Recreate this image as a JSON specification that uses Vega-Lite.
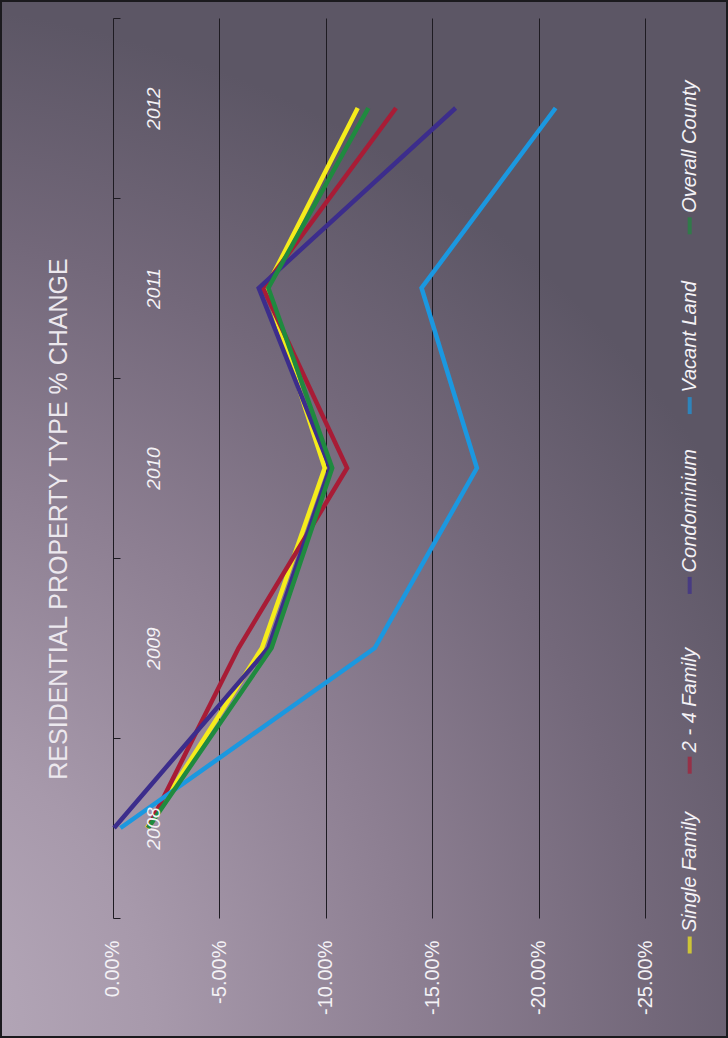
{
  "$schema": "https://vega.github.io/schema/vega-lite/v6.json",
  "width": 728,
  "height": 1038,
  "autosize": {"type": "none"},
  "padding": 0,
  "background": "#7d7083",
  "view": {
    "fill": {
      "gradient": "radial",
      "x1": 0, "y1": 1, "r1": 0,
      "x2": 0, "y2": 1, "r2": 1,
      "stops": [
        {"offset": 0, "color": "#bcb0c0"},
        {"offset": 0.3, "color": "#a799ab"},
        {"offset": 0.55, "color": "#8d7f92"},
        {"offset": 0.78, "color": "#73687a"},
        {"offset": 1, "color": "#5c5665"}
      ]
    },
    "stroke": "#1b1a1e",
    "strokeWidth": 4
  },
  "title": {
    "text": "RESIDENTIAL PROPERTY TYPE % CHANGE",
    "orient": "left",
    "anchor": "middle",
    "frame": "group",
    "offset": -72,
    "font": "Liberation Sans",
    "fontSize": 25,
    "fontWeight": "normal",
    "color": "#ece8ee"
  },
  "datasets": {
    "series": [
      {"year": 2008, "type": "Single Family", "change": -1.6},
      {"year": 2009, "type": "Single Family", "change": -7.0},
      {"year": 2010, "type": "Single Family", "change": -9.95},
      {"year": 2011, "type": "Single Family", "change": -7.2},
      {"year": 2012, "type": "Single Family", "change": -11.5},
      {"year": 2008, "type": "2 - 4 Family", "change": -1.65},
      {"year": 2009, "type": "2 - 4 Family", "change": -5.9},
      {"year": 2010, "type": "2 - 4 Family", "change": -11.0},
      {"year": 2011, "type": "2 - 4 Family", "change": -7.05},
      {"year": 2012, "type": "2 - 4 Family", "change": -13.3},
      {"year": 2008, "type": "Condominium", "change": -0.05},
      {"year": 2009, "type": "Condominium", "change": -7.3},
      {"year": 2010, "type": "Condominium", "change": -10.2},
      {"year": 2011, "type": "Condominium", "change": -6.85},
      {"year": 2012, "type": "Condominium", "change": -16.1},
      {"year": 2008, "type": "Vacant Land", "change": -0.35},
      {"year": 2009, "type": "Vacant Land", "change": -12.3},
      {"year": 2010, "type": "Vacant Land", "change": -17.1},
      {"year": 2011, "type": "Vacant Land", "change": -14.5},
      {"year": 2012, "type": "Vacant Land", "change": -20.8},
      {"year": 2008, "type": "Overall County", "change": -1.65},
      {"year": 2009, "type": "Overall County", "change": -7.45},
      {"year": 2010, "type": "Overall County", "change": -10.3},
      {"year": 2011, "type": "Overall County", "change": -7.3},
      {"year": 2012, "type": "Overall County", "change": -12.0}
    ],
    "legendItems": [
      {"type": "Single Family"},
      {"type": "2 - 4 Family"},
      {"type": "Condominium"},
      {"type": "Vacant Land"},
      {"type": "Overall County"}
    ]
  },
  "layer": [
    {
      "data": {"name": "series"},
      "mark": {"type": "line", "strokeWidth": 4.5, "strokeJoin": "miter", "strokeCap": "butt"},
      "encoding": {
        "x": {
          "field": "change",
          "type": "quantitative",
          "scale": {"domain": [-28.9, 5.31], "reverse": true, "nice": false, "zero": false},
          "axis": {
            "orient": "bottom",
            "values": [0, -5, -10, -15, -20, -25],
            "offset": -120,
            "domain": false,
            "grid": false,
            "ticks": true,
            "tickSize": -900,
            "tickColor": "#1e1b22",
            "tickWidth": 1,
            "labelPadding": 922,
            "labelAngle": 270,
            "labelAlign": "right",
            "labelBaseline": "middle",
            "labelExpr": "(datum.value < 0 ? '-' : '') + format(abs(datum.value), '.2f') + '%'",
            "labelFont": "Liberation Sans",
            "labelFontSize": 20,
            "labelColor": "#f4f2f6",
            "labelFlush": false,
            "labelOverlap": false,
            "title": null
          }
        },
        "y": {
          "field": "year",
          "type": "ordinal",
          "sort": "descending",
          "scale": {"type": "band", "paddingInner": 0, "paddingOuter": 0.38333, "align": 0.1304},
          "axis": {
            "orient": "left",
            "offset": -113,
            "zindex": 1,
            "domain": false,
            "grid": false,
            "ticks": true,
            "tickBand": "extent",
            "tickSize": -7,
            "tickColor": "#1e1b22",
            "tickWidth": 1,
            "labelPadding": -33,
            "labelAngle": 270,
            "labelAlign": "center",
            "labelBaseline": "middle",
            "labelFont": "Liberation Sans",
            "labelFontStyle": "italic",
            "labelFontSize": 19,
            "labelColor": "#f4f2f6",
            "title": null
          }
        },
        "color": {
          "field": "type",
          "type": "nominal",
          "scale": {
            "domain": ["Single Family", "2 - 4 Family", "Condominium", "Vacant Land", "Overall County"],
            "range": ["#f5ec1c", "#a81c36", "#3c2d8c", "#1b98e0", "#1f8a3f"]
          },
          "legend": null
        },
        "order": {"field": "year", "type": "quantitative"}
      }
    },
    {
      "data": {"name": "legendItems"},
      "mark": {"type": "tick", "orient": "vertical", "thickness": 4, "size": 17},
      "encoding": {
        "x": {"datum": -27.1, "type": "quantitative"},
        "y": {
          "field": "type",
          "type": "nominal",
          "sort": ["Overall County", "Vacant Land", "Condominium", "2 - 4 Family", "Single Family"],
          "scale": {"type": "point", "padding": 0.8865, "align": 0.7083},
          "axis": null
        },
        "color": {"field": "type", "type": "nominal", "legend": null}
      }
    },
    {
      "data": {"name": "legendItems"},
      "mark": {
        "type": "text",
        "angle": 270,
        "align": "left",
        "baseline": "middle",
        "dx": 13,
        "font": "Liberation Sans",
        "fontStyle": "italic",
        "fontSize": 20,
        "color": "#f4f2f6"
      },
      "encoding": {
        "x": {"datum": -27.1, "type": "quantitative"},
        "y": {
          "field": "type",
          "type": "nominal",
          "sort": ["Overall County", "Vacant Land", "Condominium", "2 - 4 Family", "Single Family"],
          "scale": {"type": "point", "padding": 0.8865, "align": 0.7083},
          "axis": null
        },
        "text": {"field": "type"}
      }
    }
  ],
  "resolve": {"scale": {"y": "independent"}}
}
